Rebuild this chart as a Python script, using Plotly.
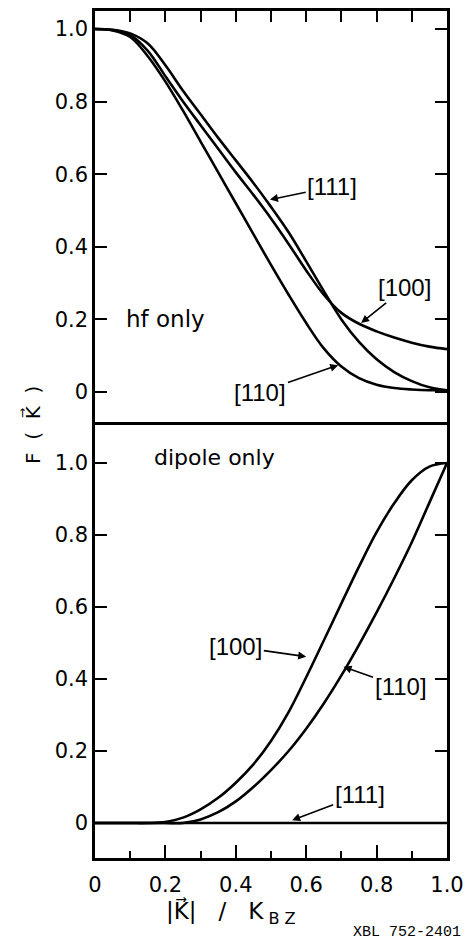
import plotly.graph_objects as go

# ---------------- data ----------------
x_grid = [0.0, 0.05, 0.10, 0.15, 0.20, 0.25, 0.30, 0.35, 0.40, 0.45, 0.50,
          0.55, 0.60, 0.65, 0.70, 0.75, 0.80, 0.85, 0.90, 0.95, 1.0]

# hf only (top panel)
hf_111 = [1.0, 0.998, 0.988, 0.96, 0.90, 0.83, 0.765, 0.70, 0.638, 0.576, 0.51,
          0.44, 0.36, 0.278, 0.20, 0.138, 0.09, 0.055, 0.03, 0.013, 0.005]
hf_100 = [1.0, 0.997, 0.983, 0.94, 0.87, 0.80, 0.735, 0.67, 0.605, 0.543, 0.478,
          0.408, 0.335, 0.268, 0.218, 0.188, 0.167, 0.15, 0.136, 0.125, 0.118]
hf_110 = [1.0, 0.996, 0.978, 0.925, 0.855, 0.775, 0.69, 0.605, 0.52, 0.435, 0.35,
          0.268, 0.19, 0.12, 0.07, 0.038, 0.02, 0.011, 0.007, 0.005, 0.005]

# dipole only (bottom panel)
dip_100 = [0.0, 0.0, 0.0, 0.0, 0.003, 0.015, 0.038, 0.07, 0.112, 0.163, 0.228,
           0.308, 0.405, 0.507, 0.61, 0.712, 0.808, 0.888, 0.952, 0.99, 1.0]
dip_110 = [0.0, 0.0, 0.0, 0.0, 0.0, 0.0, 0.01, 0.03, 0.06, 0.10, 0.147,
           0.20, 0.262, 0.332, 0.41, 0.495, 0.585, 0.68, 0.78, 0.89, 1.0]
dip_111 = [0.0] * len(x_grid)

y_tickvals = [0, 0.2, 0.4, 0.6, 0.8, 1.0]
y_ticktext = ["0", "0.2", "0.4", "0.6", "0.8", "1.0"]
x_tickvals = [0, 0.2, 0.4, 0.6, 0.8, 1.0]
x_ticktext = ["0", "0.2", "0.4", "0.6", "0.8", "1.0"]

# ---------------- figure ----------------
fig = go.Figure()
line = dict(color="black", width=2.6, shape="spline", smoothing=1.0)

for ys in (hf_111, hf_100, hf_110):
    fig.add_trace(go.Scatter(x=x_grid, y=ys, mode="lines", line=line,
                             xaxis="x2", yaxis="y2", showlegend=False, hoverinfo="skip"))
for ys in (dip_100, dip_110, dip_111):
    fig.add_trace(go.Scatter(x=x_grid, y=ys, mode="lines", line=line,
                             xaxis="x", yaxis="y", showlegend=False, hoverinfo="skip"))

FONT = "DejaVu Sans"
split = 1 - 414 / 847

axis_common = dict(showgrid=False, zeroline=False, showline=True, linecolor="black",
                   linewidth=2.5, ticks="inside", tickcolor="black", tickwidth=2)

fig.update_layout(
    width=475, height=940,
    margin=dict(l=95, r=17, t=11, b=82),
    paper_bgcolor="white", plot_bgcolor="white",
    font=dict(family=FONT, color="black", size=19),
    xaxis=dict(**axis_common, domain=[0, 1], anchor="y", range=[0, 1],
               tickvals=x_tickvals, ticktext=x_ticktext, ticklen=13, mirror=True,
               minor=dict(dtick=0.1, ticks="inside", ticklen=7, tickcolor="black", tickwidth=2),
               tickfont=dict(size=21, family=FONT), ticklabelstandoff=6),
    yaxis=dict(**axis_common, domain=[0, split], anchor="x", range=[-0.0972, 1.1056],
               tickvals=y_tickvals, ticktext=y_ticktext, ticklen=12, mirror="ticks",
               tickfont=dict(size=21, family=FONT), ticklabelstandoff=0),
    xaxis2=dict(**axis_common, domain=[0, 1], anchor="y2", range=[0, 1], side="top",
                dtick=0.1, tick0=0, ticklen=11, showticklabels=False, mirror=False),
    yaxis2=dict(**axis_common, domain=[split, 1], anchor="x2", range=[-0.0909, 1.0496],
                tickvals=y_tickvals, ticktext=y_ticktext, ticklen=12, mirror="ticks",
                tickfont=dict(size=21, family=FONT), ticklabelstandoff=0),
)

ann = []
# panel titles
ann.append(dict(x=0.2, y=0.2, xref="x2", yref="y2", text="hf only", showarrow=False,
                font=dict(size=23, family=FONT)))
ann.append(dict(x=0.34, y=1.014, xref="x", yref="y", text="dipole only", showarrow=False,
                font=dict(size=22, family=FONT)))

lab_font = dict(size=24, family="Liberation Sans")
arrow = dict(showarrow=True, arrowhead=2, arrowsize=1, arrowwidth=1.6, arrowcolor="black")
# top-panel labels (x = arrow tip on curve, ax/ay = label position)
ann.append(dict(x=0.497, y=0.53, ax=0.674, ay=0.565, xref="x2", yref="y2", axref="x2", ayref="y2",
                text="[111]", font=lab_font, **arrow))
ann.append(dict(x=0.756, y=0.19, ax=0.88, ay=0.287, xref="x2", yref="y2", axref="x2", ayref="y2",
                text="[100]", font=lab_font, **arrow))
ann.append(dict(x=0.691, y=0.074, ax=0.47, ay=0.0, xref="x2", yref="y2", axref="x2", ayref="y2",
                text="[110]", font=lab_font, **arrow))
# bottom-panel labels
ann.append(dict(x=0.60, y=0.462, ax=0.40, ay=0.49, xref="x", yref="y", axref="x", ayref="y",
                text="[100]", font=lab_font, **arrow))
ann.append(dict(x=0.706, y=0.434, ax=0.868, ay=0.378, xref="x", yref="y", axref="x", ayref="y",
                text="[110]", font=lab_font, **arrow))
ann.append(dict(x=0.56, y=0.008, ax=0.752, ay=0.078, xref="x", yref="y", axref="x", ayref="y",
                text="[111]", font=lab_font, **arrow))

# axis titles
ann.append(dict(x=-0.179, y=split, xref="paper", yref="paper", xanchor="center", yanchor="middle",
                text="F  (  K\u20d7  )", textangle=-90, showarrow=False,
                font=dict(size=20, family=FONT)))
ann.append(dict(x=0.386, y=-0.0638, xref="paper", yref="paper", xanchor="center", yanchor="middle",
                text="|K\u20d7|   /   K<sub> B Z</sub>", showarrow=False,
                font=dict(size=23, family=FONT)))
ann.append(dict(x=1.045, y=-0.0874, xref="paper", yref="paper", xanchor="right", yanchor="middle",
                text="XBL 752-2401", showarrow=False,
                font=dict(size=15, family="Liberation Mono")))

fig.update_layout(annotations=ann)

fig.write_html("out.html")
